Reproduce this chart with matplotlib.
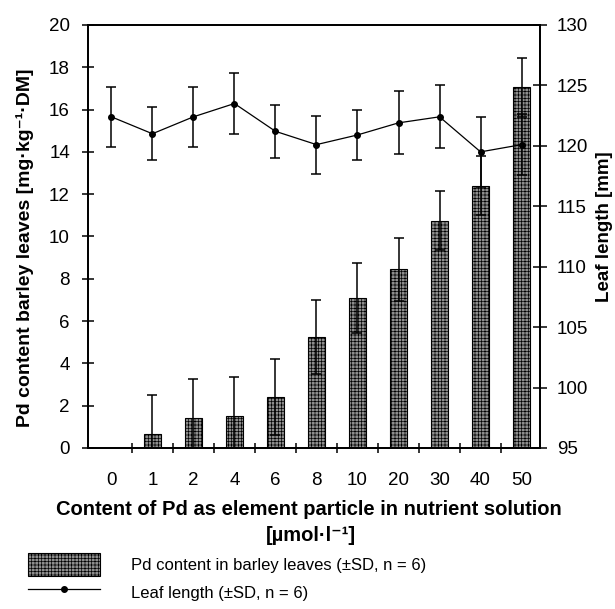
import matplotlib
matplotlib.use('Agg')
import matplotlib.pyplot as plt
import numpy as np

# data
conc_labels = ['0', '1', '2', '4', '6', '8', '10', '20', '30', '40', '50']
pd_content = [0.0, 0.65, 1.4, 1.5, 2.4, 5.25, 7.1, 8.45, 10.75, 12.4, 17.05]
pd_sd = [0.0, 1.85, 1.85, 1.85, 1.8, 1.75, 1.65, 1.5, 1.4, 1.4, 1.4]
leaf_len = [122.4, 121.0, 122.4, 123.5, 121.2, 120.1, 120.9, 121.9, 122.4, 119.5, 120.1]
leaf_sd = [2.5, 2.2, 2.5, 2.5, 2.2, 2.4, 2.1, 2.6, 2.6, 2.9, 2.5]

fonts = ['Liberation Sans', 'DejaVu Sans']

matplotlib.rcParams['font.family'] = fonts
matplotlib.rcParams['hatch.linewidth'] = 0.5
matplotlib.rcParams['axes.linewidth'] = 1.3

x = np.arange(len(conc_labels))

fig = plt.figure(figsize=(6.15, 6.09), dpi=100)
ax = fig.add_axes([0.1431, 0.2644, 0.7350, 0.6946])

bars = ax.bar(x, pd_content, width=0.41, facecolor='#8e8e8e', edgecolor='black',
              linewidth=0.8, hatch='+++++', zorder=2)
ax.errorbar(x[1:], pd_content[1:], yerr=pd_sd[1:], fmt='none', ecolor='black',
            elinewidth=1.1, capsize=3.5, capthick=1.1, zorder=3)

ax.set_xlim(-0.57, 10.45)
ax.set_ylim(0, 20)
ax.set_yticks(np.arange(0, 21, 2))
ax.tick_params(axis='y', direction='inout', length=8, width=1.1, labelsize=13.5, pad=9)

# ticks between categories, labels under the categories
ax.set_xticks(np.arange(0.5, 10.5, 1))
ax.set_xticklabels([])
ax.set_xticks(x, minor=True)
ax.set_xticklabels(conc_labels, minor=True)
ax.tick_params(axis='x', which='major', direction='inout', length=7, width=1.1)
ax.tick_params(axis='x', which='minor', length=0, labelsize=13.5, pad=17)

ax2 = ax.twinx()
eb = ax2.errorbar(x, leaf_len, yerr=leaf_sd, color='black', linewidth=0.9,
                  marker='o', markersize=4, elinewidth=1.1, capsize=3.5, capthick=1.1)
ax2.set_ylim(95, 130)
ax2.set_yticks(np.arange(95, 131, 5))
ax2.tick_params(axis='y', direction='inout', length=10, width=1.1, labelsize=13.5, pad=7)

fig.text(0.041, 0.594, 'Pd content barley leaves [mg\u00b7kg\u207b\u00b9\u00b7DM]',
         rotation=90, ha='center', va='center', fontsize=14, fontweight='bold')
fig.text(0.983, 0.627, 'Leaf length [mm]', rotation=90, ha='center', va='center',
         fontsize=13.5, fontweight='bold')
fig.text(0.502, 0.164, 'Content of Pd as element particle in nutrient solution',
         ha='center', va='center', fontsize=14.5, fontweight='bold')
fig.text(0.506, 0.121, '[\u00b5mol\u00b7l\u207b\u00b9]', ha='center', va='center',
         fontsize=14.5, fontweight='bold')

fig.legend([bars, eb.lines[0]],
           ['Pd content in barley leaves (\u00b1SD, n = 6)', 'Leaf length (\u00b1SD, n = 6)'],
           loc='upper left', bbox_to_anchor=(0.0455, 0.092), frameon=False,
           fontsize=12, handlelength=4.3, handleheight=1.75, handletextpad=1.9,
           labelspacing=0.3, borderpad=0, borderaxespad=0)

plt.savefig('out.png', dpi=100)
